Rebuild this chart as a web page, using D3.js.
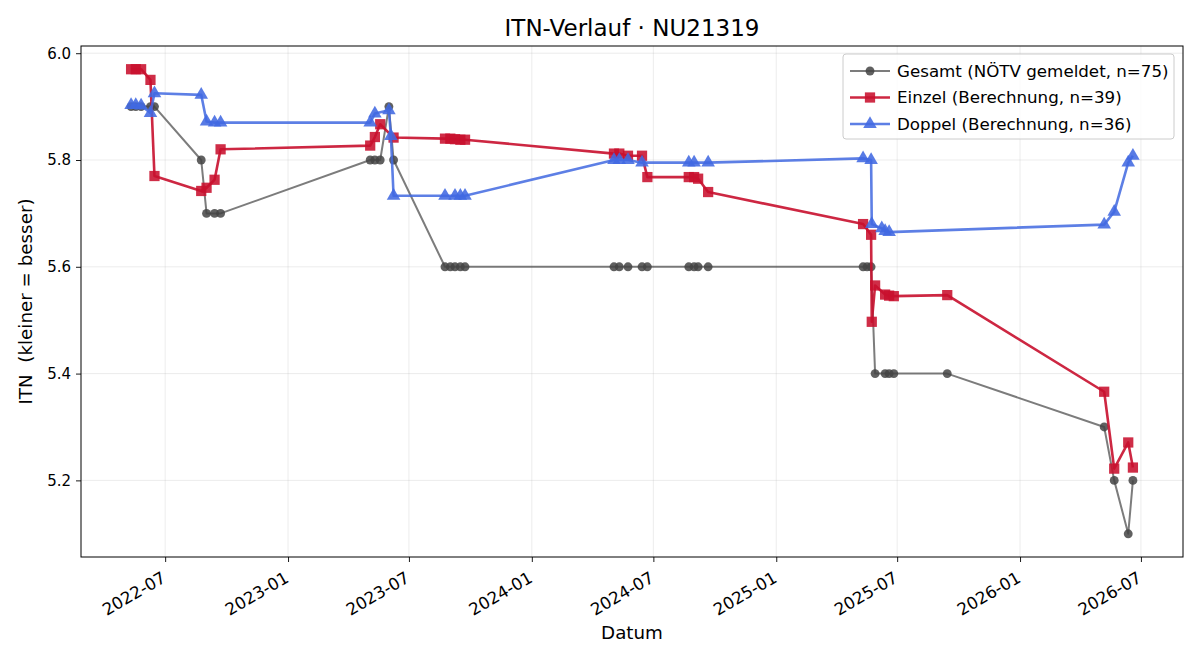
<!DOCTYPE html>
<html>
<head>
<meta charset="utf-8">
<script src="https://cdn.jsdelivr.net/npm/d3@7"></script>
<style>
body { margin: 0; background: #fff; }
svg text { font-family: "DejaVu Sans", sans-serif; }
</style>
</head>
<body>
<div id="chart"></div>
<script>
// Gesamt (NÖTV gemeldet)
var gesamtDates = ["2022-05-11","2022-05-18","2022-05-26","2022-06-09","2022-06-15","2022-08-24","2022-09-01","2022-09-13","2022-09-22",
  "2023-05-04","2023-05-11","2023-05-19","2023-06-01","2023-06-08","2023-08-24","2023-09-01","2023-09-08","2023-09-16","2023-09-23",
  "2024-05-03","2024-05-11","2024-05-24","2024-06-14","2024-06-22","2024-08-23","2024-08-31","2024-09-06","2024-09-21",
  "2025-05-11","2025-05-17","2025-05-23","2025-05-29","2025-06-13","2025-06-19","2025-06-26","2025-09-14",
  "2026-05-07","2026-05-22","2026-06-12","2026-06-19"];
var gesamtValues = [5.9,5.9,5.9,5.9,5.9,5.8,5.7,5.7,5.7,
  5.8,5.8,5.8,5.9,5.8,5.6,5.6,5.6,5.6,5.6,
  5.6,5.6,5.6,5.6,5.6,5.6,5.6,5.6,5.6,
  5.6,5.6,5.6,5.4,5.4,5.4,5.4,5.4,
  5.3,5.2,5.1,5.2];

// Einzel (Berechnung)
var einzelDates = ["2022-05-11","2022-05-18","2022-05-26","2022-06-09","2022-06-15","2022-08-24","2022-09-01","2022-09-13","2022-09-22",
  "2023-05-04","2023-05-11","2023-05-19","2023-06-08","2023-08-24","2023-09-01","2023-09-08","2023-09-16","2023-09-23",
  "2024-05-03","2024-05-11","2024-05-24","2024-06-14","2024-06-22","2024-08-23","2024-08-31","2024-09-06","2024-09-21",
  "2025-05-11","2025-05-23","2025-05-24","2025-05-29","2025-06-13","2025-06-19","2025-06-26","2025-09-14",
  "2026-05-07","2026-05-22","2026-06-12","2026-06-19"];
var einzelValues = [5.97,5.97,5.97,5.95,5.77,5.742,5.748,5.763,5.82,
  5.827,5.843,5.867,5.842,5.84,5.84,5.839,5.838,5.838,
  5.812,5.812,5.808,5.808,5.768,5.768,5.768,5.765,5.74,
  5.68,5.66,5.497,5.565,5.548,5.546,5.545,5.547,
  5.366,5.222,5.271,5.224];

// Doppel (Berechnung)
var doppelDates = ["2022-05-11","2022-05-18","2022-05-26","2022-06-09","2022-06-15","2022-08-24","2022-09-01","2022-09-13","2022-09-22",
  "2023-05-04","2023-05-11","2023-06-01","2023-06-04","2023-06-08","2023-08-24","2023-09-08","2023-09-16","2023-09-23",
  "2024-05-03","2024-05-11","2024-05-24","2024-06-14","2024-08-23","2024-08-31","2024-09-21",
  "2025-05-11","2025-05-23","2025-05-24","2025-06-08","2025-06-13","2025-06-19",
  "2026-05-07","2026-05-22","2026-06-12","2026-06-19"];
var doppelValues = [5.903,5.903,5.902,5.888,5.925,5.922,5.872,5.87,5.87,
  5.87,5.887,5.893,5.845,5.733,5.733,5.733,5.733,5.733,
  5.80,5.80,5.80,5.795,5.795,5.795,5.795,
  5.803,5.80,5.68,5.672,5.667,5.665,
  5.679,5.703,5.795,5.808];

var yTicks = [5.2, 5.4, 5.6, 5.8, 6.0];

var W = 1200, H = 660;
var margin = {top: 46, right: 17, bottom: 103, left: 81};
var width = W - margin.left - margin.right,
    height = H - margin.top - margin.bottom;

var parseDate = d3.timeParse("%Y-%m-%d");
function zipSeries(dates, vals) {
  return dates.map(function(d, i) { return {date: parseDate(d), value: vals[i]}; });
}

var series = [
  {name: "Gesamt (NÖTV gemeldet, n=75)", data: zipSeries(gesamtDates, gesamtValues), color: "#444444", lineOpacity: 0.7, markOpacity: 0.85, lw: 2, marker: "circle"},
  {name: "Einzel (Berechnung, n=39)", data: zipSeries(einzelDates, einzelValues), color: "#c8102e", lineOpacity: 0.9, markOpacity: 0.88, lw: 2.6, marker: "square"},
  {name: "Doppel (Berechnung, n=36)", data: zipSeries(doppelDates, doppelValues), color: "#4169e1", lineOpacity: 0.85, markOpacity: 0.88, lw: 2.6, marker: "triangle"}
];

var all = [];
series.forEach(function(s) { all = all.concat(s.data); });

var xExt = d3.extent(all, function(d) { return d.date; });
var xPad = (xExt[1] - xExt[0]) * 0.05;
var yExt = d3.extent(all, function(d) { return d.value; });
var yPad = (yExt[1] - yExt[0]) * 0.05;

var x = d3.scaleTime()
    .domain([new Date(+xExt[0] - xPad), new Date(+xExt[1] + xPad)])
    .range([0, width]);
var y = d3.scaleLinear()
    .domain([yExt[0] - yPad, yExt[1] + yPad])
    .range([height, 0]);

var svg = d3.select("#chart").append("svg")
    .attr("width", W)
    .attr("height", H);

var g = svg.append("g")
    .attr("transform", "translate(" + margin.left + "," + margin.top + ")");

var xTicks = x.ticks(d3.timeMonth.every(6));

// grid
g.append("g").selectAll("line").data(xTicks).enter().append("line")
    .attr("x1", function(d) { return x(d); }).attr("x2", function(d) { return x(d); })
    .attr("y1", 0).attr("y2", height)
    .attr("stroke", "#b0b0b0").attr("stroke-opacity", 0.3).attr("stroke-width", 0.8);
g.append("g").selectAll("line").data(yTicks).enter().append("line")
    .attr("y1", function(d) { return y(d); }).attr("y2", function(d) { return y(d); })
    .attr("x1", 0).attr("x2", width)
    .attr("stroke", "#b0b0b0").attr("stroke-opacity", 0.3).attr("stroke-width", 0.8);

// axes
var xAxis = d3.axisBottom(x).tickValues(xTicks).tickFormat(d3.timeFormat("%Y-%m")).tickSize(5).tickPadding(4);
var yAxis = d3.axisLeft(y).tickValues(yTicks).tickFormat(d3.format(".1f")).tickSize(5).tickPadding(5);

var gx = g.append("g")
    .attr("transform", "translate(0," + height + ")")
    .call(xAxis);
gx.select(".domain").remove();
gx.selectAll("line").attr("stroke", "#000").attr("stroke-width", 0.9);
gx.selectAll("text")
    .attr("font-size", 16.7)
    .attr("fill", "#000")
    .attr("text-anchor", "end")
    .attr("dy", null)
    .attr("transform", "translate(-5,13) rotate(-30)")
    .attr("y", 0).attr("x", 0)
    .attr("dominant-baseline", "hanging");

var gy = g.append("g").call(yAxis);
gy.select(".domain").remove();
gy.selectAll("line").attr("stroke", "#000").attr("stroke-width", 0.9);
gy.selectAll("text").attr("font-size", 15).attr("fill", "#000");

// lines and markers
var line = d3.line()
    .x(function(d) { return x(d.date); })
    .y(function(d) { return y(d.value); });

var symbols = {
  circle: d3.symbol().type(d3.symbolCircle).size(62),
  square: d3.symbol().type(d3.symbolSquare).size(105),
  triangle: d3.symbol().type(d3.symbolTriangle).size(80)
};

series.forEach(function(s) {
  g.append("path")
    .datum(s.data)
    .attr("fill", "none")
    .attr("stroke", s.color)
    .attr("stroke-opacity", s.lineOpacity)
    .attr("stroke-width", s.lw)
    .attr("stroke-linejoin", "round")
    .attr("d", line);
  g.append("g").selectAll("path").data(s.data).enter().append("path")
    .attr("d", symbols[s.marker])
    .attr("transform", function(d) { return "translate(" + x(d.date) + "," + y(d.value) + ")"; })
    .attr("fill", s.color)
    .attr("fill-opacity", s.markOpacity);
});

// frame
g.append("rect")
    .attr("width", width).attr("height", height)
    .attr("fill", "none").attr("stroke", "#000").attr("stroke-width", 1);

// title and labels
svg.append("text")
    .attr("x", margin.left + width / 2).attr("y", 36)
    .attr("text-anchor", "middle")
    .attr("font-size", 23)
    .text("ITN-Verlauf · NU21319");

svg.append("text")
    .attr("x", margin.left + width / 2).attr("y", 639)
    .attr("text-anchor", "middle")
    .attr("font-size", 18.3)
    .text("Datum");

svg.append("text")
    .attr("transform", "translate(32," + (margin.top + height / 2) + ") rotate(-90)")
    .attr("text-anchor", "middle")
    .attr("font-size", 18.3)
    .attr("xml:space", "preserve")
    .style("white-space", "pre")
    .text("ITN  (kleiner = besser)");

// legend
var lg = svg.append("g").attr("transform", "translate(843,54)");
lg.append("rect")
    .attr("width", 331).attr("height", 85)
    .attr("rx", 3)
    .attr("fill", "#fff").attr("fill-opacity", 0.8)
    .attr("stroke", "#cccccc");
series.forEach(function(s, i) {
  var yy = 17 + i * 26.5;
  lg.append("line")
    .attr("x1", 7).attr("x2", 47).attr("y1", yy).attr("y2", yy)
    .attr("stroke", s.color).attr("stroke-opacity", s.lineOpacity).attr("stroke-width", s.lw);
  lg.append("path")
    .attr("d", symbols[s.marker])
    .attr("transform", "translate(27," + yy + ")")
    .attr("fill", s.color).attr("fill-opacity", s.markOpacity);
  lg.append("text")
    .attr("x", 54).attr("y", yy).attr("dy", "0.35em")
    .attr("font-size", 16.7)
    .text(s.name);
});
</script>
</body>
</html>
